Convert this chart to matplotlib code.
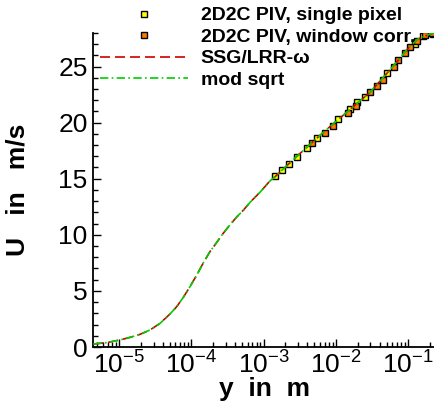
import matplotlib
matplotlib.use('Agg')
import matplotlib.pyplot as plt
from matplotlib.ticker import LogLocator, MultipleLocator

plt.rcParams['font.family'] = ['Liberation Sans', 'DejaVu Sans']
plt.rcParams['mathtext.fontset'] = 'custom'
plt.rcParams['mathtext.rm'] = 'Liberation Sans'
plt.rcParams['mathtext.it'] = 'Liberation Sans:italic'
plt.rcParams['mathtext.bf'] = 'Liberation Sans:bold'

# RANS curves (both models nearly identical)
y_rans = [4.41e-6, 6.75e-6, 1.03e-5, 1.42e-5, 1.95e-5, 2.68e-5, 3.69e-5,
          5.07e-5, 6.27e-5, 7.74e-5, 9.59e-5, 1.19e-4, 1.47e-4, 1.81e-4,
          2.24e-4, 2.77e-4, 3.43e-4, 4.25e-4, 5.25e-4, 6.49e-4, 8.91e-4,
          1.22e-3, 1.45e-3, 2.88e-3, 6.6e-3, 0.0158, 0.0295, 0.0447, 0.0692,
          0.0955, 0.132, 0.2, 0.234]
u_ssg = [0.27, 0.39, 0.63, 0.86, 1.13, 1.52, 2.11, 2.95, 3.6, 4.43, 5.39,
         6.43, 7.53, 8.51, 9.32, 10.15, 10.9, 11.6, 12.2, 12.9, 13.8, 14.8,
         15.2, 17.0, 19.1, 21.2, 22.7, 24.0, 25.4, 26.5, 27.4, 27.9, 28.0]
u_sqrt = [0.27, 0.39, 0.63, 0.86, 1.13, 1.52, 2.11, 2.95, 3.6, 4.43, 5.39,
          6.43, 7.53, 8.51, 9.32, 10.15, 10.9, 11.6, 12.2, 12.9, 13.8, 14.8,
          15.2, 17.0, 19.1, 21.2, 22.7, 24.0, 25.4, 26.5, 27.4, 27.9, 28.0]

# PIV single pixel
y_sp = [1.44e-3, 1.81e-3, 2.26e-3, 2.86e-3, 3.94e-3, 5.42e-3, 0.0108, 0.0157,
        0.0194, 0.0252, 0.0504, 0.124, 0.162, 0.222]
u_sp = [15.2, 15.8, 16.3, 16.9, 17.7, 18.6, 20.3, 21.2, 21.8, 22.3, 24.4,
        27.0, 27.7, 27.9]

# PIV window correlation
y_wc = [4.62e-3, 7.06e-3, 9.02e-3, 0.0148, 0.019, 0.0296, 0.0366, 0.0444,
        0.0635, 0.073, 0.0902, 0.106, 0.131, 0.171, 0.211]
u_wc = [18.2, 19.1, 19.7, 20.9, 21.5, 22.7, 23.3, 23.8, 25.0, 25.6, 26.2,
        26.7, 27.3, 27.8, 27.95]

fig = plt.figure(figsize=(4.35, 4.08), dpi=100)
ax = fig.add_axes([0.214, 0.1495, 0.786, 0.77])

ax.plot(y_sp, u_sp, 's', ms=4.4, mfc='#ffff00', mec='black', mew=1.0,
        label='2D2C PIV, single pixel', zorder=3)
ax.plot(y_wc, u_wc, 's', ms=4.4, mfc='#ff7800', mec='black', mew=1.0,
        label='2D2C PIV, window corr.', zorder=3)
ax.plot(y_rans, u_ssg, color='#cc0000', ls=(0, (6, 3)), lw=1.2,
        label='SSG/LRR-ω', zorder=4)
ax.plot(y_rans, u_sqrt, color='#00cc00', ls=(0, (5, 2, 1, 2)), lw=1.2,
        label='mod sqrt', zorder=5)

ax.set_xscale('log')
ax.set_xlim(4.37e-6, 0.234)
ax.set_ylim(0, 28)

ax.xaxis.set_major_locator(LogLocator(base=10, numticks=10))
ax.xaxis.set_minor_locator(LogLocator(base=10, subs=range(2, 10), numticks=20))
ax.yaxis.set_major_locator(MultipleLocator(5))
ax.yaxis.set_minor_locator(MultipleLocator(1))

ax.spines['top'].set_visible(False)
ax.spines['right'].set_visible(False)
for s in ('left', 'bottom'):
    ax.spines[s].set_linewidth(1.3)

ax.tick_params(which='both', direction='in', labelsize=19, width=1.0)
ax.tick_params(which='major', length=6)
ax.tick_params(which='minor', length=3.5)
ax.tick_params(axis='x', pad=3)
ax.tick_params(axis='y', pad=4)

ax.set_xlabel('y  in  m', fontsize=19, fontweight='bold')
ax.set_ylabel('U   in   m/s', fontsize=19, fontweight='bold')
ax.xaxis.set_label_coords(0.5, -0.097)
ax.yaxis.set_label_coords(-0.185, 0.5)

leg = ax.legend(loc='upper left', bbox_to_anchor=(0.204, 1.012),
                bbox_transform=fig.transFigure, frameon=False,
                prop={'size': 14, 'weight': 'bold'}, handlelength=4.5,
                handletextpad=0.65, labelspacing=0.2, borderpad=0.1,
                numpoints=1)

fig.savefig('out.png', dpi=100)
